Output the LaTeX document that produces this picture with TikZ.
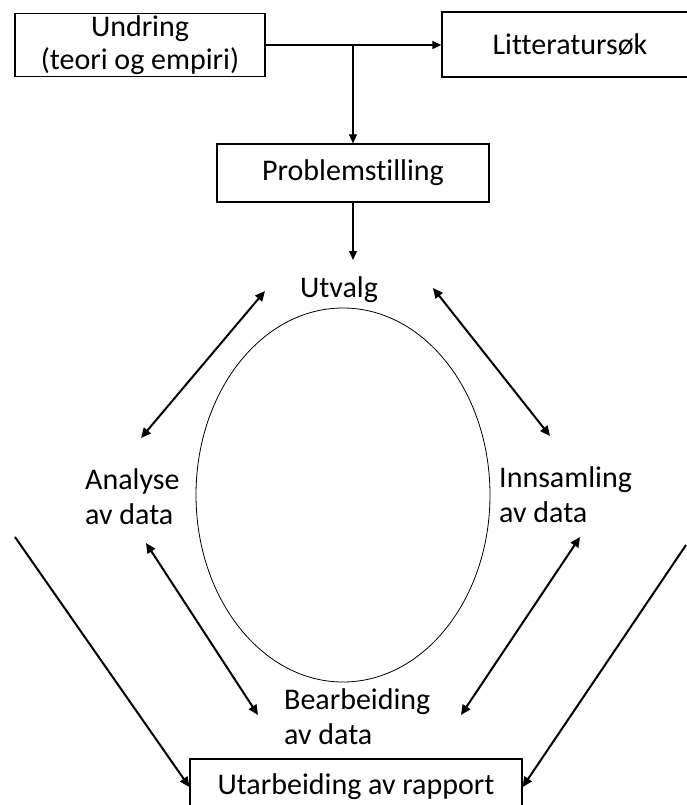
\documentclass[tikz,border=0pt]{standalone}
\usepackage{fontspec}
\setmainfont{Carlito}[Ligatures=NoCommon]
\usetikzlibrary{arrows.meta,positioning,shapes.geometric}

\begin{document}
\begin{tikzpicture}[x=1pt,y=-1pt,
    boks/.style={draw, line width=1.2pt, inner sep=0pt, align=center,
      font=\fontsize{30}{33}\selectfont},
    etikett/.style={inner sep=0pt, align=left, anchor=west,
      font=\fontsize{30}{35}\selectfont},
    pil/.style={-{Triangle[length=9pt,width=8pt]}, line width=1.2pt},
    langpil/.style={-{Triangle[length=10pt,width=9pt]}, line width=2pt},
    dobbelpil/.style={{Triangle[length=10pt,width=9pt]}-{Triangle[length=10pt,width=9pt]}, line width=2pt}]
  \useasboundingbox (0,0) rectangle (686,805);

  % Boxes
  \node[boks, minimum width=250, minimum height=63] (undring) at (140,45) {Undring\\(teori og empiri)};
  \node[boks, minimum width=256, minimum height=65] (litt) at (570,44.5) {Litteratursøk};
  \node[boks, minimum width=272, minimum height=58] (prob) at (353,173) {Problemstilling};
  \node[boks, minimum width=332, minimum height=56] (rapport) at (356,787) {Utarbeiding av rapport};

  % Cycle
  \node[draw, ellipse, line width=0.8pt, minimum width=294, minimum height=374, inner sep=0pt] (syklus) at (343,495) {};
  \node[etikett, anchor=center] (utvalg) at (339,290) {Utvalg};
  \node[etikett] (analyse) at (85,497) {Analyse\\av data};
  \node[etikett] (innsamling) at (499,495) {Innsamling\\av data};
  \node[etikett] (bearbeiding) at (284,717) {Bearbeiding\\av data};

  % Arrow ends
  \coordinate (split) at (undring.east -| prob.north);
  \coordinate (utvalg-inn) at (353,260);
  \coordinate (utv-v) at (265,291);
  \coordinate (ana-o) at (141,438);
  \coordinate (utv-h) at (433,288);
  \coordinate (inn-o) at (550,436);
  \coordinate (ana-n) at (146,543);
  \coordinate (bea-v) at (258,715);
  \coordinate (inn-n) at (580,537);
  \coordinate (bea-h) at (461,715);
  \coordinate (venstre) at (15,537);
  \coordinate (hoyre) at (686,545);

  % Arrows
  \draw[pil] (undring.east) -- (undring.east -| litt.west);
  \draw[pil] (split) -- (prob.north);
  \draw[pil] (prob.south) -- (utvalg-inn);
  \draw[dobbelpil] (utv-v) -- (ana-o);
  \draw[dobbelpil] (utv-h) -- (inn-o);
  \draw[dobbelpil] (ana-n) -- (bea-v);
  \draw[dobbelpil] (inn-n) -- (bea-h);
  \draw[langpil] (venstre) -- (rapport.west);
  \draw[langpil] (hoyre) -- (rapport.east);
\end{tikzpicture}
\end{document}
